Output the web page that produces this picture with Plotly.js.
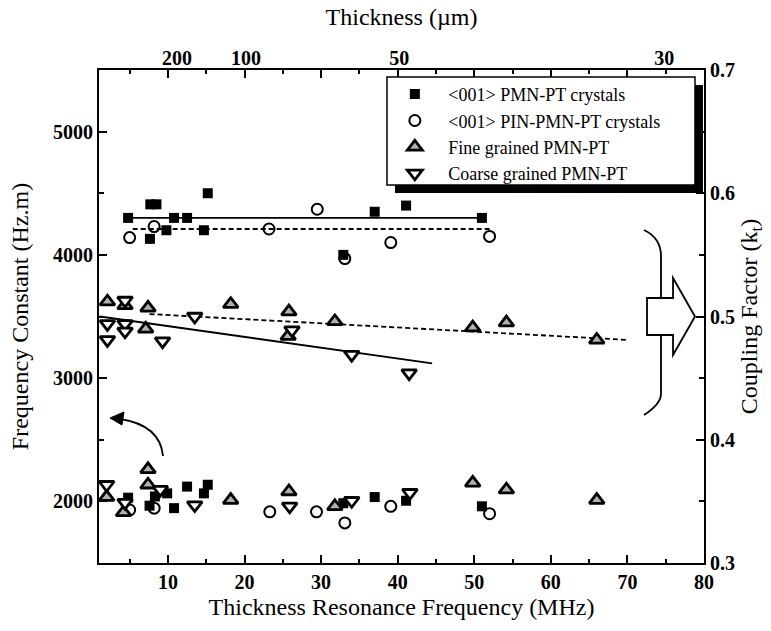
<!DOCTYPE html>
<html><head><meta charset="utf-8">
<script src="https://cdn.plot.ly/plotly-3.0.1.min.js"></script>
<style>html,body{margin:0;padding:0;background:#fff}</style>
</head><body><div id="chart" style="width:771px;height:631px"></div>
<script>
// ---- data ----
// <001> PMN-PT crystals
const pmnNx = [4.8, 7.6, 8.3, 9.9, 10.8, 12.5, 14.7, 15.2, 32.9, 37.0, 41.1, 51.0];
const pmnN  = [2030, 1965, 2040, 2065, 1945, 2120, 2065, 2135, 1985, 2035, 2005, 1960];
const pmnKx = [4.8, 7.7, 8.5, 7.65, 9.8, 10.8, 12.5, 14.7, 15.2, 32.9, 37.0, 41.1, 51.0];
const pmnK  = [0.580, 0.591, 0.591, 0.563, 0.570, 0.580, 0.580, 0.570, 0.600, 0.550, 0.585, 0.590, 0.580];
// <001> PIN-PMN-PT crystals
const pinNx = [5.0, 8.2, 23.3, 29.4, 33.1, 39.1, 52.0];
const pinN  = [1930, 1945, 1915, 1915, 1825, 1960, 1900];
const pinKx = [5.0, 8.2, 23.2, 29.5, 33.1, 39.1, 52.0];
const pinK  = [0.564, 0.573, 0.571, 0.587, 0.547, 0.560, 0.565];
// Fine grained PMN-PT
const fineNx = [2.0, 4.2, 7.4, 7.4, 18.2, 25.8, 31.8, 49.8, 54.2, 66.0];
const fineN  = [2035, 1910, 2260, 2135, 2010, 2080, 1960, 2150, 2095, 2010];
const fineKx = [2.1, 4.4, 7.4, 18.2, 25.8, 31.8, 7.1, 25.7, 49.8, 54.2, 66.0];
const fineK  = [0.512, 0.509, 0.507, 0.510, 0.504, 0.496, 0.490, 0.484, 0.491, 0.495, 0.481];
// Coarse grained PMN-PT
const coarseNx = [2.0, 4.4, 9.0, 13.5, 25.9, 34.0, 41.6];
const coarseN  = [2135, 1990, 2095, 1970, 1960, 2005, 2070];
const coarseKx = [2.1, 2.1, 4.4, 4.4, 4.4, 9.3, 13.5, 26.2, 34.0, 41.5];
const coarseK  = [0.494, 0.481, 0.513, 0.494, 0.488, 0.480, 0.500, 0.489, 0.469, 0.454];
// fit lines (coupling factor)
const fitPmnX = [4.8, 51], fitPmnK = [0.580, 0.580];
const fitPinX = [5.4, 52], fitPinK = [0.571, 0.571];
const fitFineX = [7.6, 70], fitFineK = [0.502, 0.481];
const fitCoarseX = [1.1, 44.5], fitCoarseK = [0.500, 0.462];
// top axis labels (thickness, µm)
const topTickVals = [11.2, 20.2, 40.2, 74.8];
const topTickText = ['200', '100', '50', '30'];
const names = ['<001> PMN-PT crystals', '<001> PIN-PMN-PT crystals', 'Fine grained PMN-PT', 'Coarse grained PMN-PT'];

// ---- styles ----
const SERIF = 'Liberation Serif, Times New Roman, serif';
const esc = s => '\u00a0\u00a0\u00a0' + s.replace(/</g, '&lt;').replace(/>/g, '&gt;');
const mk = [
  {symbol: 'square', size: 10, color: '#000', line: {color: '#000', width: 0}},
  {symbol: 'circle-open', size: 11, color: '#000', line: {color: '#000', width: 2}},
  {symbol: 'triangle-up', size: 13, color: '#b0b0b0', line: {color: '#000', width: 2.8}},
  {symbol: 'triangle-down', size: 13, color: '#ffffff', line: {color: '#000', width: 2.8}}
];
const sets = [[pmnNx, pmnN, pmnKx, pmnK], [pinNx, pinN, pinKx, pinK], [fineNx, fineN, fineKx, fineK], [coarseNx, coarseN, coarseKx, coarseK]];
const traces = [];
const fits = [[fitPmnX, fitPmnK, 'solid'], [fitPinX, fitPinK, '5px,3px'], [fitFineX, fitFineK, '5px,3px'], [fitCoarseX, fitCoarseK, 'solid']];
fits.forEach(f => traces.push({x: f[0], y: f[1], xaxis: 'x2', yaxis: 'y2', mode: 'lines', showlegend: false, hoverinfo: 'skip',
  line: {color: '#000', width: 1.8, dash: f[2]}}));
sets.forEach((s, i) => {
  traces.push({x: s[2], y: s[3], xaxis: 'x2', yaxis: 'y2', mode: 'markers', name: esc(names[i]), legendgroup: 'g' + i, marker: mk[i]});
  traces.push({x: s[0], y: s[1], xaxis: 'x', yaxis: 'y', mode: 'markers', name: esc(names[i]), legendgroup: 'g' + i, showlegend: false, marker: mk[i]});
});

// ---- decoration helpers (paper coords from pixel positions) ----
const L = 99, T = 70, W = 605, H = 493;
const fx = p => ((p - L) / W).toFixed(4), fy = p => ((T + H - p) / H).toFixed(4);
const P = (pts) => pts.map(c => c[0] + c.slice(1).reduce((a, v, j) => a + (j % 2 === 0 ? fx(v) : ',' + fy(v)) + (j % 2 === 1 ? ' ' : ''), '')).join(' ');
const shapes = [
  // legend shadow and box
  {type: 'rect', xref: 'paper', yref: 'paper', x0: fx(395), x1: fx(703), y0: fy(193), y1: fy(85), fillcolor: '#000', line: {width: 0}, layer: 'above'},
  {type: 'rect', xref: 'paper', yref: 'paper', x0: fx(387), x1: fx(695), y0: fy(185), y1: fy(77), fillcolor: '#fff', line: {width: 1.5, color: '#000'}, layer: 'above'},
  // right brace
  {type: 'path', xref: 'paper', yref: 'paper', layer: 'above', line: {color: '#000', width: 1.8},
   path: P([['M', 644, 230], ['Q', 661, 238, 661, 256], ['L', 661, 394], ['Q', 661, 404, 644, 415]])},
  // hollow block arrow
  {type: 'path', xref: 'paper', yref: 'paper', layer: 'above', fillcolor: '#fff', line: {color: '#000', width: 1.8},
   path: P([['M', 647, 298], ['L', 673, 298], ['L', 673, 278], ['L', 695, 316.5], ['L', 673, 355], ['L', 673, 335], ['L', 647, 335]]) + ' Z'},
  // curved arrow pointing to the left axis
  {type: 'path', xref: 'paper', yref: 'paper', layer: 'above', line: {color: '#000', width: 1.8},
   path: P([['M', 163, 456], ['Q', 160, 425, 120, 419]])},
  {type: 'path', xref: 'paper', yref: 'paper', layer: 'above', fillcolor: '#000', line: {color: '#000', width: 1},
   path: P([['M', 110, 418], ['L', 124, 412], ['L', 122, 425]]) + ' Z'}
];

const tickFont = {family: SERIF, size: 20, color: '#000', weight: 'bold'};
const titleFont = {family: SERIF, size: 24, color: '#000'};
const axBase = {showgrid: false, zeroline: false, showline: true, linecolor: '#000', linewidth: 2,
  ticks: 'inside', ticklen: 8, tickwidth: 2, tickcolor: '#000', tickfont: tickFont};

const layout = {
  width: 771, height: 631,
  margin: {l: L, r: 771 - L - W, t: T, b: 631 - T - H, pad: 0},
  paper_bgcolor: '#fff', plot_bgcolor: '#fff',
  showlegend: true,
  legend: {x: 0.489, y: 0.988, xanchor: 'left', yanchor: 'top', bgcolor: 'rgba(0,0,0,0)', borderwidth: 0,
    font: {family: SERIF, size: 18, color: '#000'}, traceorder: 'normal'},
  xaxis: Object.assign({}, axBase, {range: [1, 80], dtick: 10, tick0: 0, mirror: 'ticks',
    minor: {dtick: 5, tick0: 0, ticks: 'inside', ticklen: 4, tickwidth: 2, tickcolor: '#000'},
    title: {text: 'Thickness Resonance Frequency (MHz)', font: titleFont, standoff: 6}}),
  xaxis2: {overlaying: 'x', side: 'top', anchor: 'y2', range: [1, 80], showgrid: false, zeroline: false, showline: false,
    ticks: '', tickmode: 'array', tickvals: topTickVals, ticktext: topTickText, tickfont: tickFont,
    title: {text: 'Thickness (µm)', font: titleFont, standoff: 14}},
  yaxis: Object.assign({}, axBase, {range: [1500, 5500], dtick: 1000, tick0: 0,
    minor: {dtick: 500, tick0: 0, ticks: 'inside', ticklen: 5, tickwidth: 2, tickcolor: '#000'},
    title: {text: 'Frequency Constant (Hz.m)', font: titleFont, standoff: 18}}),
  yaxis2: Object.assign({}, axBase, {overlaying: 'y', side: 'right', anchor: 'x2', range: [0.3, 0.7], dtick: 0.1, tick0: 0,
    minor: {dtick: 0.05, tick0: 0, ticks: 'inside', ticklen: 5, tickwidth: 2, tickcolor: '#000'},
    title: {text: 'Coupling Factor (k<sub>t</sub>)', font: titleFont, standoff: 6}}),
  shapes: shapes
};
Plotly.newPlot('chart', traces, layout, {displayModeBar: false, staticPlot: true});
</script>
</body></html>
